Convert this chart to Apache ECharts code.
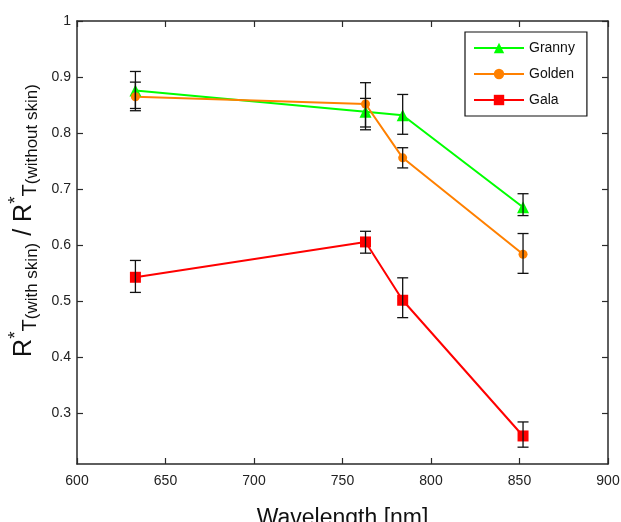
<!DOCTYPE html>
<html>
<head>
<meta charset="utf-8">
<script src="https://cdn.jsdelivr.net/npm/echarts@6/dist/echarts.min.js"></script>
<style>html,body{margin:0;padding:0;background:#fff}#c{width:621px;height:522px}</style>
</head>
<body>
<div id="c"></div>
<script>
var wavelengths = [633, 763, 784, 852];
var granny = [0.876, 0.838, 0.832, 0.668];
var golden = [0.865, 0.852, 0.756, 0.584];
var gala = [0.543, 0.606, 0.502, 0.260];
var grannyLow = [0.844, 0.806, 0.798, 0.653];
var grannyHigh = [0.910, 0.862, 0.869, 0.692];
var goldenLow = [0.840, 0.811, 0.738, 0.550];
var goldenHigh = [0.891, 0.890, 0.774, 0.621];
var galaLow = [0.516, 0.586, 0.471, 0.240];
var galaHigh = [0.573, 0.625, 0.542, 0.285];
var yTicks = [0.3, 0.4, 0.5, 0.6, 0.7, 0.8, 0.9, 1];
var seriesNames = ['Granny', 'Golden', 'Gala'];

var FONT = '"Liberation Sans", Arial, sans-serif';
var AX = '#2a2a2a';

function pts(ys) { return wavelengths.map(function (x, i) { return [x, ys[i]]; }); }
function errData(lo, hi) { return wavelengths.map(function (x, i) { return [x, lo[i], hi[i]]; }); }

function errSeries(lo, hi) {
  return {
    type: 'custom',
    xAxisIndex: 0, yAxisIndex: 0,
    z: 5,
    silent: true,
    data: errData(lo, hi),
    renderItem: function (params, api) {
      var x = api.value(0);
      var pl = api.coord([x, api.value(1)]);
      var ph = api.coord([x, api.value(2)]);
      var w = 5.5;
      var st = { stroke: '#111', lineWidth: 1.3, fill: null };
      return {
        type: 'group',
        children: [
          { type: 'line', shape: { x1: pl[0], y1: pl[1], x2: ph[0], y2: ph[1] }, style: st },
          { type: 'line', shape: { x1: pl[0] - w, y1: pl[1], x2: pl[0] + w, y2: pl[1] }, style: st },
          { type: 'line', shape: { x1: ph[0] - w, y1: ph[1], x2: ph[0] + w, y2: ph[1] }, style: st }
        ]
      };
    }
  };
}

var chart = echarts.init(document.getElementById('c'), null, { renderer: 'canvas' });
var axisCommon = {
  axisLine: { show: true, lineStyle: { color: AX, width: 1.5 } },
  axisTick: { show: true, inside: true, length: 6, lineStyle: { color: AX, width: 1.2 } },
  splitLine: { show: false }
};
chart.setOption({
  animation: false,
  backgroundColor: '#fff',
  textStyle: { fontFamily: FONT },
  grid: { left: 77, right: 13, top: 21, bottom: 58, containLabel: false, outerBoundsMode: 'none' },
  legend: {
    orient: 'vertical',
    left: 465, top: 32,
    padding: [9, 12, 9, 8],
    itemGap: 12,
    itemWidth: 50, itemHeight: 13,
    borderColor: '#111', borderWidth: 1.2,
    backgroundColor: '#fff',
    textStyle: { fontFamily: FONT, fontSize: 14, color: '#111' },
    data: seriesNames
  },
  xAxis: [
    Object.assign({
      type: 'value', min: 600, max: 900, interval: 50,
      position: 'bottom',
      name: 'Wavelength [nm]', nameLocation: 'middle', nameGap: 43,
      nameTextStyle: { fontFamily: FONT, fontSize: 23, color: '#111' },
      axisLabel: { fontFamily: FONT, fontSize: 14, color: '#222', margin: 10 }
    }, axisCommon),
    Object.assign({
      type: 'value', min: 600, max: 900, interval: 50,
      position: 'top',
      axisLabel: { show: false }
    }, axisCommon)
  ],
  yAxis: [
    Object.assign({
      type: 'value', min: 0.21, max: 1,
      position: 'left',
      name: '{r|R}{sup|*}{sub|T}{subs|(with skin)}{r| / R}{sup|*}{sub|T}{subs|(without skin)}',
      nameLocation: 'middle', nameRotate: 90, nameGap: 34,
      nameTextStyle: {
        color: '#111', padding: [0, 0, 0, 44],
        rich: {
          r: { fontFamily: FONT, fontSize: 25, color: '#111', lineHeight: 34 },
          sup: { fontFamily: FONT, fontSize: 19, color: '#111', verticalAlign: 'top' },
          sub: { fontFamily: FONT, fontSize: 20, color: '#111', verticalAlign: 'bottom' },
          subs: { fontFamily: FONT, fontSize: 17, color: '#111', verticalAlign: 'bottom' }
        }
      },
      axisLabel: { fontFamily: FONT, fontSize: 14, color: '#222', margin: 6, customValues: yTicks },
      axisTick: { show: true, inside: true, length: 6, lineStyle: { color: AX, width: 1.2 }, customValues: yTicks }
    }, { axisLine: axisCommon.axisLine, splitLine: axisCommon.splitLine }),
    Object.assign({
      type: 'value', min: 0.21, max: 1,
      position: 'right',
      axisLabel: { show: false, customValues: yTicks },
      axisTick: { show: true, inside: true, length: 6, lineStyle: { color: AX, width: 1.2 }, customValues: yTicks }
    }, { axisLine: axisCommon.axisLine, splitLine: axisCommon.splitLine })
  ],
  series: [
    errSeries(grannyLow, grannyHigh),
    errSeries(goldenLow, goldenHigh),
    errSeries(galaLow, galaHigh),
    {
      name: 'Granny', type: 'line', data: pts(granny), z: 3,
      symbol: 'triangle', symbolSize: 12,
      itemStyle: { color: '#00ff00' }, lineStyle: { color: '#00ff00', width: 2 }
    },
    {
      name: 'Golden', type: 'line', data: pts(golden), z: 3,
      symbol: 'circle', symbolSize: 9,
      itemStyle: { color: '#ff8000' }, lineStyle: { color: '#ff8000', width: 2 }
    },
    {
      name: 'Gala', type: 'line', data: pts(gala), z: 3,
      symbol: 'rect', symbolSize: 11,
      itemStyle: { color: '#ff0000' }, lineStyle: { color: '#ff0000', width: 2 }
    }
  ]
});
</script>
</body>
</html>
